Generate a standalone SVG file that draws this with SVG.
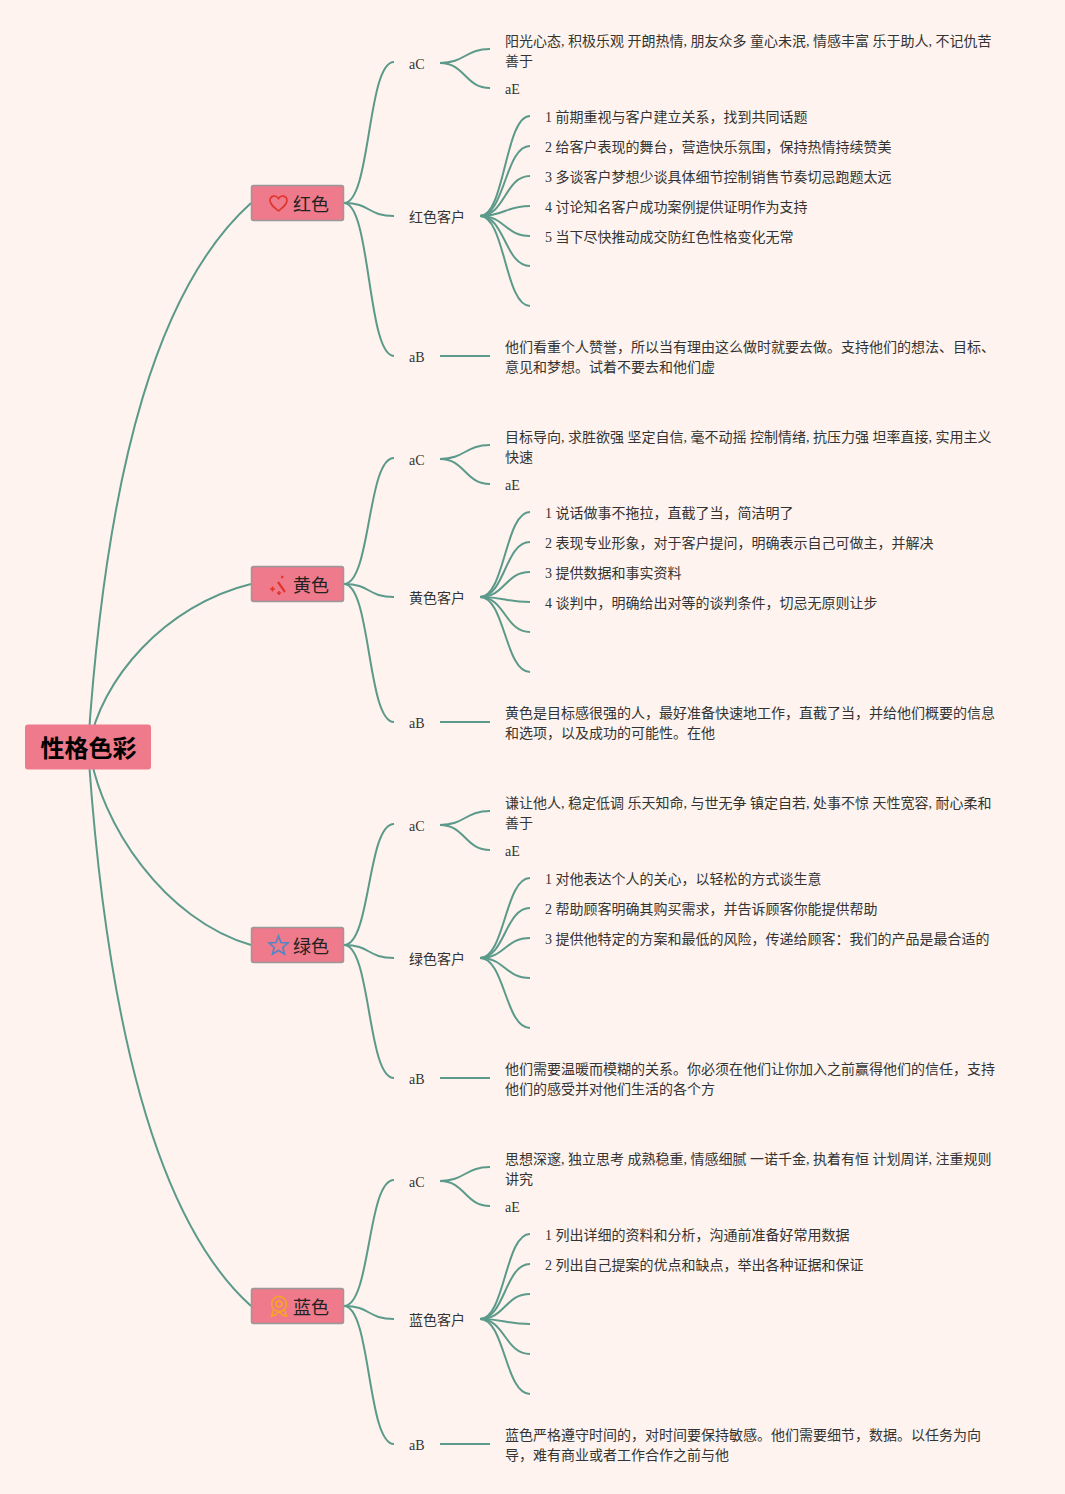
<svg xmlns="http://www.w3.org/2000/svg" width="1065" height="1494" viewBox="0 0 1065 1494">
<style>
text{font-family:"Liberation Serif","Noto Sans CJK SC",serif;font-size:14px;fill:#333}
.root{fill:#ee7a8b}
.b{fill:#ee7a8b;stroke:#999;stroke-width:1.500}
.bt{font-family:"Noto Sans CJK SC","Liberation Sans",sans-serif;font-size:18px;fill:#222}
.rt{font-family:"Noto Sans CJK SC","Liberation Sans",sans-serif;font-size:24px;font-weight:700;fill:#000;text-anchor:middle}
#connectors path{fill:none;stroke:#5b9a8b;stroke-width:2}
.ic{fill:none;stroke-width:1.600}
</style>
<rect width="1065" height="1494" fill="#fef3ee"/>
<g id="connectors">
<path d="M88 747C107 460 160 285 251 203"/>
<path d="M89 747C100 680 165 605 251 584"/>
<path d="M89 747C100 825 165 920 251 945"/>
<path d="M88 747C107 1034 160 1224 251 1306"/>

<path d="M344 203C371 203 367 62 394 62"/><path d="M344 203C371 203 367 216 394 216"/><path d="M344 203C371 203 367 356 394 356"/>
<path d="M440 63C465 63 465 49 490 49"/><path d="M440 63C465 63 465 88 490 88"/>
<path d="M480 216C505 216 505 116 530 116"/><path d="M480 216C505 216 505 146 530 146"/><path d="M480 216C505 216 505 176 530 176"/><path d="M480 216C505 216 505 206 530 206"/><path d="M480 216C505 216 505 236 530 236"/><path d="M480 216C505 216 505 266 530 266"/><path d="M480 216C505 216 505 306 530 306"/>
<path d="M440 356H490"/>

<path d="M344 584C371 584 367 458 394 458"/><path d="M344 584C371 584 367 597 394 597"/><path d="M344 584C371 584 367 722 394 722"/>
<path d="M440 459C465 459 465 445 490 445"/><path d="M440 459C465 459 465 484 490 484"/>
<path d="M480 597C505 597 505 512 530 512"/><path d="M480 597C505 597 505 542 530 542"/><path d="M480 597C505 597 505 572 530 572"/><path d="M480 597C505 597 505 602 530 602"/><path d="M480 597C505 597 505 632 530 632"/><path d="M480 597C505 597 505 672 530 672"/>
<path d="M440 722H490"/>

<path d="M344 945C371 945 367 824 394 824"/><path d="M344 945C371 945 367 958 394 958"/><path d="M344 945C371 945 367 1078 394 1078"/>
<path d="M440 825C465 825 465 811 490 811"/><path d="M440 825C465 825 465 850 490 850"/>
<path d="M480 958C505 958 505 878 530 878"/><path d="M480 958C505 958 505 908 530 908"/><path d="M480 958C505 958 505 938 530 938"/><path d="M480 958C505 958 505 978 530 978"/><path d="M480 958C505 958 505 1028 530 1028"/>
<path d="M440 1078H490"/>

<path d="M344 1306C371 1306 367 1180 394 1180"/><path d="M344 1306C371 1306 367 1319 394 1319"/><path d="M344 1306C371 1306 367 1444 394 1444"/>
<path d="M440 1181C465 1181 465 1167 490 1167"/><path d="M440 1181C465 1181 465 1206 490 1206"/>
<path d="M480 1319C505 1319 505 1234 530 1234"/><path d="M480 1319C505 1319 505 1264 530 1264"/><path d="M480 1319C505 1319 505 1294 530 1294"/><path d="M480 1319C505 1319 505 1324 530 1324"/><path d="M480 1319C505 1319 505 1354 530 1354"/><path d="M480 1319C505 1319 505 1394 530 1394"/>
<path d="M440 1444H490"/>
</g>

<g id="root"><rect class="root" x="25" y="724.500" width="126" height="45" rx="3"/><text class="rt" x="88.500" y="757">性格色彩</text></g>

<g id="red"><rect class="b" x="251.500" y="185.500" width="92" height="35" rx="2"/>
<path class="ic" stroke="#e0352b" d="M278.500 211C273 206.500 270 204 270 200.500C270 195.500 276 194.500 278.500 198.500C281 194.500 287 195.500 287 200.500C287 204 284 206.500 278.500 211Z"/>
<text class="bt" x="293" y="211">红色</text></g>
<g id="yellow"><rect class="b" x="251.500" y="566.500" width="92" height="35" rx="2"/>
<path d="M278 582L285 592" stroke="#e0352b" stroke-width="2.200" fill="none"/><path d="M270 589H275M272.500 586.500V591.500M277 593H281M279 591V595M281 577H283.500M282.200 575.800V578.200" stroke="#e0352b" stroke-width="1.500" fill="none"/>
<text class="bt" x="293" y="592">黄色</text></g>
<g id="green"><rect class="b" x="251.500" y="927.500" width="92" height="35" rx="2"/>
<path class="ic" stroke="#4f86c6" d="M278.500 936L281 942.500L288 943L282.800 947.500L284.500 954L278.500 950.500L272.500 954L274.200 947.500L269 943L276 942.500Z"/>
<text class="bt" x="293" y="953">绿色</text></g>
<g id="blue"><rect class="b" x="251.500" y="1288.500" width="92" height="35" rx="2"/>
<circle class="ic" stroke="#f5a623" cx="279" cy="1304" r="7.500"/><circle class="ic" stroke="#f5a623" cx="279" cy="1304" r="3"/>
<path class="ic" stroke="#f5a623" d="M273.500 1310L271.500 1316L275.500 1315L279 1311.500L282.500 1315L286.500 1316L284.500 1310"/>
<text class="bt" x="293" y="1314">蓝色</text></g>

<g id="red-detail">
<text x="409" y="69">aC</text>
<text x="505" y="46">阳光心态, 积极乐观 开朗热情, 朋友众多 童心未泯, 情感丰富 乐于助人, 不记仇苦</text>
<text x="505" y="66">善于</text>
<text x="505" y="94">aE</text>
<text x="409" y="222">红色客户</text>
<text x="545" y="122">1 前期重视与客户建立关系，找到共同话题</text>
<text x="545" y="152">2 给客户表现的舞台，营造快乐氛围，保持热情持续赞美</text>
<text x="545" y="182">3 多谈客户梦想少谈具体细节控制销售节奏切忌跑题太远</text>
<text x="545" y="212">4 讨论知名客户成功案例提供证明作为支持</text>
<text x="545" y="242">5 当下尽快推动成交防红色性格变化无常</text>
<text x="409" y="362">aB</text>
<text x="505" y="352">他们看重个人赞誉，所以当有理由这么做时就要去做。支持他们的想法、目标、</text>
<text x="505" y="372">意见和梦想。试着不要去和他们虚</text>
</g>
<g id="yellow-detail">
<text x="409" y="465">aC</text>
<text x="505" y="442">目标导向, 求胜欲强 坚定自信, 毫不动摇 控制情绪, 抗压力强 坦率直接, 实用主义</text>
<text x="505" y="462">快速</text>
<text x="505" y="490">aE</text>
<text x="409" y="603">黄色客户</text>
<text x="545" y="518">1 说话做事不拖拉，直截了当，简洁明了</text>
<text x="545" y="548">2 表现专业形象，对于客户提问，明确表示自己可做主，并解决</text>
<text x="545" y="578">3 提供数据和事实资料</text>
<text x="545" y="608">4 谈判中，明确给出对等的谈判条件，切忌无原则让步</text>
<text x="409" y="728">aB</text>
<text x="505" y="718">黄色是目标感很强的人，最好准备快速地工作，直截了当，并给他们概要的信息</text>
<text x="505" y="738">和选项，以及成功的可能性。在他</text>
</g>
<g id="green-detail">
<text x="409" y="831">aC</text>
<text x="505" y="808">谦让他人, 稳定低调 乐天知命, 与世无争 镇定自若, 处事不惊 天性宽容, 耐心柔和</text>
<text x="505" y="828">善于</text>
<text x="505" y="856">aE</text>
<text x="409" y="964">绿色客户</text>
<text x="545" y="884">1 对他表达个人的关心，以轻松的方式谈生意</text>
<text x="545" y="914">2 帮助顾客明确其购买需求，并告诉顾客你能提供帮助</text>
<text x="545" y="944">3 提供他特定的方案和最低的风险，传递给顾客：我们的产品是最合适的</text>
<text x="409" y="1084">aB</text>
<text x="505" y="1074">他们需要温暖而模糊的关系。你必须在他们让你加入之前赢得他们的信任，支持</text>
<text x="505" y="1094">他们的感受并对他们生活的各个方</text>
</g>
<g id="blue-detail">
<text x="409" y="1187">aC</text>
<text x="505" y="1164">思想深邃, 独立思考 成熟稳重, 情感细腻 一诺千金, 执着有恒 计划周详, 注重规则</text>
<text x="505" y="1184">讲究</text>
<text x="505" y="1212">aE</text>
<text x="409" y="1325">蓝色客户</text>
<text x="545" y="1240">1 列出详细的资料和分析，沟通前准备好常用数据</text>
<text x="545" y="1270">2 列出自己提案的优点和缺点，举出各种证据和保证</text>
<text x="409" y="1450">aB</text>
<text x="505" y="1440">蓝色严格遵守时间的，对时间要保持敏感。他们需要细节，数据。以任务为向</text>
<text x="505" y="1460">导，难有商业或者工作合作之前与他</text>
</g>
</svg>
